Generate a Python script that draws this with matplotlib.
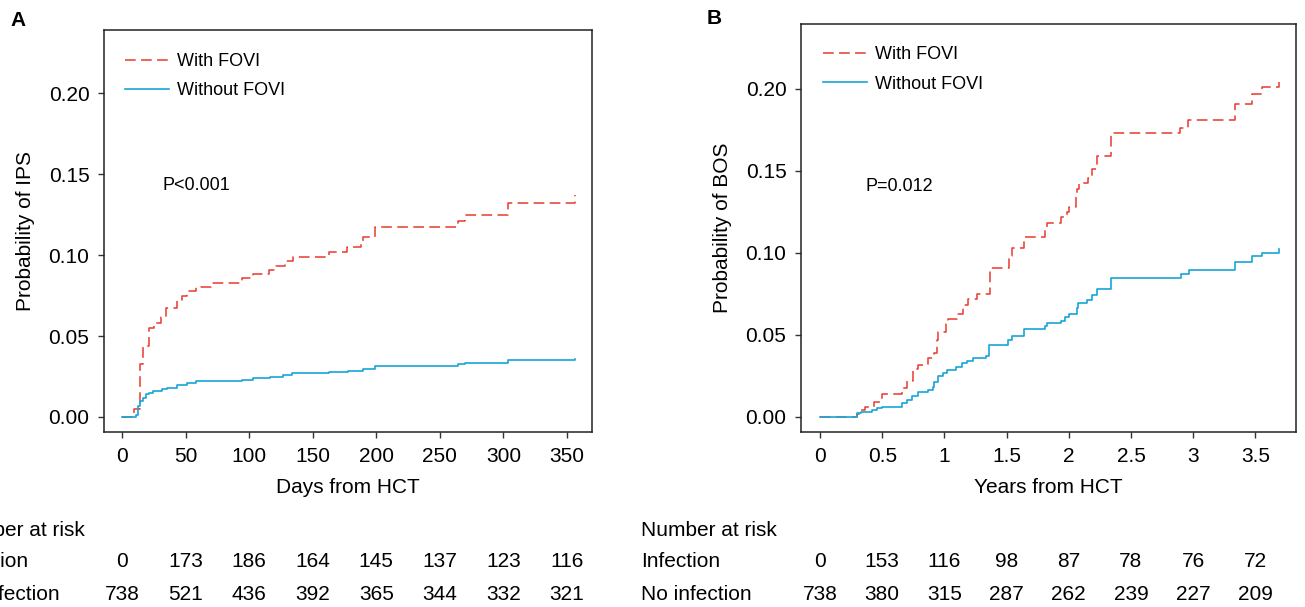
import matplotlib
matplotlib.use("Agg")
import matplotlib.pyplot as plt
from matplotlib.transforms import blended_transform_factory

plt.rcParams['font.family'] = ['Liberation Sans', 'DejaVu Sans']

# Panel A: cumulative incidence of IPS (days)
ips_with_t = [0, 9.7, 14, 16.8, 21.3, 25, 30.6, 34.3, 43.5, 46.9, 51.3, 57.9, 69.9, 94.5,
              103, 115.7, 121.5, 128, 134.6, 162.8, 177, 188.3, 189.6, 198.7, 264.2, 269.4, 304, 356]
ips_with_p = [0, 0.005, 0.033, 0.044, 0.055, 0.058, 0.062, 0.067, 0.072, 0.075, 0.078, 0.080, 0.083, 0.086,
              0.088, 0.091, 0.093, 0.096, 0.099, 0.102, 0.105, 0.108, 0.111, 0.117, 0.121, 0.125, 0.132, 0.137]
ips_without_t = [0, 11, 12.8, 14.1, 16.2, 18.9, 21.2, 24.6, 31.2, 35.1, 43, 50.8, 58.1, 69.9,
                 94.5, 103, 116, 126.7, 134, 162.8, 177.8, 189.6, 198.7, 264.2, 270, 303.5, 356]
ips_without_p = [0, 0.001, 0.007, 0.010, 0.012, 0.014, 0.015, 0.016, 0.017, 0.018, 0.0195, 0.021, 0.022, 0.0225,
                 0.023, 0.024, 0.025, 0.026, 0.027, 0.028, 0.0285, 0.0295, 0.0315, 0.0325, 0.0335, 0.035, 0.036]
ips_ticks = [0, 50, 100, 150, 200, 250, 300, 350]
ips_risk_inf = [0, 173, 186, 164, 145, 137, 123, 116]
ips_risk_noinf = [738, 521, 436, 392, 365, 344, 332, 321]

# Panel B: cumulative incidence of BOS (years)
bos_with_t = [0, 0.295, 0.32, 0.36, 0.434, 0.495, 0.656, 0.697, 0.75, 0.79, 0.87, 0.92, 0.94, 0.95,
              1.013, 1.03, 1.104, 1.147, 1.187, 1.259, 1.366, 1.522, 1.54, 1.64, 1.81, 1.827, 1.94, 1.983,
              2.004, 2.058, 2.07, 2.085, 2.157, 2.19, 2.225, 2.337, 2.895, 2.96, 3.336, 3.47, 3.55, 3.69]
bos_with_p = [0, 0.002, 0.004, 0.006, 0.009, 0.014, 0.0175, 0.022, 0.029, 0.032, 0.036, 0.039, 0.047, 0.052,
              0.057, 0.060, 0.063, 0.068, 0.072, 0.075, 0.091, 0.098, 0.103, 0.110, 0.114, 0.118, 0.122, 0.125,
              0.128, 0.134, 0.139, 0.1425, 0.146, 0.151, 0.159, 0.173, 0.176, 0.181, 0.191, 0.197, 0.201, 0.2045]
bos_without_t = [0, 0.295, 0.33, 0.42, 0.46, 0.495, 0.656, 0.697, 0.737, 0.79, 0.87, 0.906, 0.92, 0.946,
                 0.991, 1.023, 1.093, 1.139, 1.179, 1.227, 1.335, 1.36, 1.514, 1.54, 1.64, 1.81, 1.822, 1.94,
                 1.97, 2.004, 2.063, 2.077, 2.15, 2.19, 2.23, 2.337, 2.9, 2.966, 3.336, 3.47, 3.55, 3.69]
bos_without_p = [0, 0.0026, 0.0033, 0.0043, 0.0053, 0.0063, 0.0083, 0.0104, 0.0128, 0.0152, 0.0165, 0.0185, 0.0215, 0.025,
                 0.027, 0.0287, 0.0303, 0.0327, 0.0344, 0.0358, 0.0372, 0.0439, 0.047, 0.0494, 0.0535, 0.0555, 0.0571, 0.0588,
                 0.0608, 0.0628, 0.0663, 0.0693, 0.0713, 0.0744, 0.0778, 0.085, 0.087, 0.0897, 0.0948, 0.0984, 0.1002, 0.1022]
bos_ticks = [0, 0.5, 1, 1.5, 2, 2.5, 3, 3.5]
bos_tick_labels = ['0', '0.5', '1', '1.5', '2', '2.5', '3', '3.5']
bos_risk_inf = [0, 153, 116, 98, 87, 78, 76, 72]
bos_risk_noinf = [738, 380, 315, 287, 262, 239, 227, 209]

RED = '#E8392F'
BLUE = '#17A6D8'
W, H = 1305, 607


def draw_panel(fig, rect, letter, letter_pos, t1, p1, t2, p2, xlim, ylim, ticks, tick_labels,
               xlabel, ylabel, ptext, ppos, legend_anchor, label_x, risk_inf, risk_noinf):
    ax = fig.add_axes(rect)
    ax.step(t1, p1, where='post', color=RED, lw=1.1, linestyle=(0, (7, 3.5)), label='With FOVI')
    ax.step(t2, p2, where='post', color=BLUE, lw=1.2, label='Without FOVI')

    ax.set_xlim(*xlim)
    ax.set_ylim(*ylim)
    ax.set_xticks(ticks)
    ax.set_xticklabels(tick_labels)
    ax.set_yticks([0, 0.05, 0.10, 0.15, 0.20])
    ax.set_yticklabels(['0.00', '0.05', '0.10', '0.15', '0.20'])
    ax.tick_params(direction='out', length=4.5, width=1, labelsize=15, pad=6, color='#333333')
    for sp in ax.spines.values():
        sp.set_linewidth(1.1)
        sp.set_color('#222222')

    ax.set_xlabel(xlabel, fontsize=15, labelpad=9)
    ax.set_ylabel(ylabel, fontsize=15, labelpad=10)
    ax.text(ppos[0], ppos[1], ptext, fontsize=13, va='center', ha='left')

    ax.legend(loc='upper left', bbox_to_anchor=legend_anchor, frameon=False, fontsize=13,
              handlelength=2.45, handletextpad=0.45, labelspacing=0.68,
              borderpad=0, borderaxespad=0)

    # panel letter
    fig.text(letter_pos[0] / W, 1 - letter_pos[1] / H, letter, fontsize=15, fontweight='bold',
             va='top', ha='left')

    # number at risk table
    tr = blended_transform_factory(ax.transData, fig.transFigure)
    fig.text(label_x / W, 1 - 530 / H, 'Number at risk', fontsize=15, va='center', ha='left')
    fig.text(label_x / W, 1 - 561.5 / H, 'Infection', fontsize=15, va='center', ha='left')
    fig.text(label_x / W, 1 - 594 / H, 'No infection', fontsize=15, va='center', ha='left')
    for x, a, b in zip(ticks, risk_inf, risk_noinf):
        ax.text(x, 1 - 561.5 / H, str(a), transform=tr, fontsize=15, va='center', ha='center', clip_on=False)
        ax.text(x, 1 - 594 / H, str(b), transform=tr, fontsize=15, va='center', ha='center', clip_on=False)
    return ax


fig = plt.figure(figsize=(W / 100, H / 100), dpi=100)

draw_panel(fig, [104 / W, 175 / H, 488 / W, 402 / H], 'A', (10, 11),
           ips_with_t, ips_with_p, ips_without_t, ips_without_p,
           (-14.2, 369.7), (-0.00926, 0.2389), ips_ticks, [str(t) for t in ips_ticks],
           'Days from HCT', 'Probability of IPS', 'P<0.001', (31.5, 0.1426), (0.043, 0.943), -51,
           ips_risk_inf, ips_risk_noinf)

draw_panel(fig, [801 / W, 175 / H, 495 / W, 408 / H], 'B', (707, 9),
           bos_with_t, bos_with_p, bos_without_t, bos_without_p,
           (-0.153, 3.827), (-0.00915, 0.2396), bos_ticks, bos_tick_labels,
           'Years from HCT', 'Probability of BOS', 'P=0.012', (0.362, 0.1404), (0.044, 0.945), 641,
           bos_risk_inf, bos_risk_noinf)

plt.savefig("out.png", dpi=100)
